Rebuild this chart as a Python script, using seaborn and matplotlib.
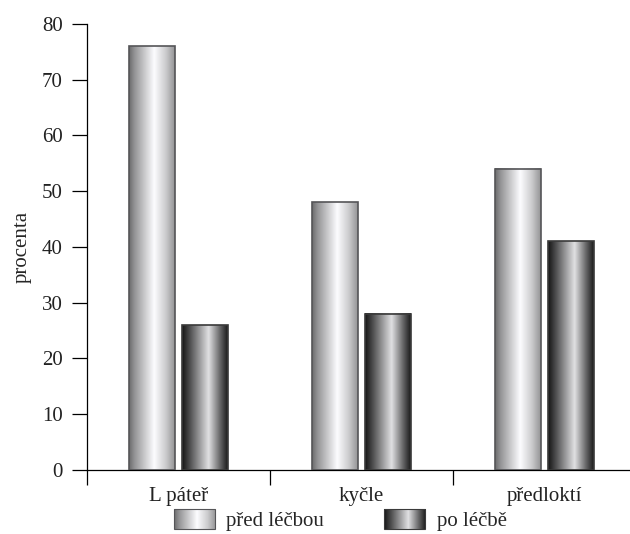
import numpy as np
import pandas as pd
import matplotlib
matplotlib.use("Agg")
import matplotlib.pyplot as plt
import seaborn as sns
from matplotlib.legend_handler import HandlerBase
from matplotlib.image import BboxImage
from matplotlib.transforms import Bbox, TransformedBbox
from matplotlib.patches import Rectangle

categories = ["L páteř", "kyčle", "předloktí"]
series_names = ["před léčbou", "po léčbě"]
before = [76, 48, 54]
after = [26, 28, 41]
y_ticks = [0, 10, 20, 30, 40, 50, 60, 70, 80]
y_label = "procenta"

df = pd.DataFrame({
    "kategorie": categories * 2,
    "skupina": [series_names[0]] * 3 + [series_names[1]] * 3,
    "hodnota": before + after,
})

sns.set_theme(style="white")
plt.rcParams["font.family"] = ["Liberation Serif", "DejaVu Serif"]

def gradient(stops, n=200):
    xs = np.linspace(0, 1, n)
    pos = [s[0] for s in stops]
    val = [s[1] for s in stops]
    g = np.interp(xs, pos, val)
    rgb = np.stack([g, g, g * 1.01], axis=-1).clip(0, 1)
    return rgb[np.newaxis, :, :]

grad_before = gradient([(0, 0.42), (0.12, 0.58), (0.55, 0.99), (0.8, 0.8), (1, 0.58)])
grad_after = gradient([(0, 0.08), (0.18, 0.32), (0.58, 0.88), (0.82, 0.42), (1, 0.1)])
grads = [grad_before, grad_after]
edges = ["#555558", "#3a3a3a"]

fig = plt.figure(figsize=(6.3, 5.34), dpi=100)
ax = fig.add_axes([0.138, 0.1199, 0.862, 0.8352])

sns.barplot(data=df, x="kategorie", y="hodnota", hue="skupina",
            hue_order=series_names, order=categories,
            width=0.58, gap=0.14, legend=False, ax=ax,
            palette=["#cccccc", "#444444"], saturation=1)

for i, cont in enumerate(ax.containers):
    for bar in cont:
        x, y = bar.get_x(), bar.get_y()
        w, h = bar.get_width(), bar.get_height()
        ax.imshow(grads[i], extent=[x, x + w, y, y + h], aspect="auto",
                  interpolation="bilinear", zorder=2)
        bar.set_facecolor("none")
        bar.set_edgecolor(edges[i])
        bar.set_linewidth(1.2)
        bar.set_zorder(3)

ax.set_xlim(-0.5, 2.467)
ax.set_ylim(0, 80)
ax.set_yticks(y_ticks)
ax.set_yticklabels([str(t) for t in y_ticks])
ax.set_xticks(range(len(categories)))
ax.set_xticklabels(categories)
ax.set_xticks([-0.5, 0.5, 1.5], minor=True)
ax.set_xlabel("")
ax.set_ylabel(y_label, fontsize=15, labelpad=7)

for s in ["top", "right"]:
    ax.spines[s].set_visible(False)
for s in ["left", "bottom"]:
    ax.spines[s].set_color("black")
    ax.spines[s].set_linewidth(0.9)

ax.tick_params(axis="y", which="major", direction="out", length=11, width=0.9,
               color="black", labelsize=15, pad=6.5, left=True)
ax.tick_params(axis="x", which="major", length=0, labelsize=15, pad=12.5, bottom=True)
ax.tick_params(axis="x", which="minor", direction="out", length=11, width=0.9,
               color="black", bottom=True)
for lab in ax.get_xticklabels() + ax.get_yticklabels():
    lab.set_color("#222222")


class GradHandler(HandlerBase):
    def __init__(self, grad, ec):
        super().__init__()
        self.grad = grad
        self.ec = ec

    def create_artists(self, legend, orig_handle, xdescent, ydescent,
                       width, height, fontsize, trans):
        bb = Bbox.from_bounds(-xdescent, -ydescent, width, height)
        tbb = TransformedBbox(bb, trans)
        img = BboxImage(tbb, interpolation="bilinear")
        img.set_data(self.grad)
        rect = Rectangle((-xdescent, -ydescent), width, height,
                         facecolor="none", edgecolor=self.ec, linewidth=0.8,
                         transform=trans)
        return [img, rect]


h1 = Rectangle((0, 0), 1, 1)
h2 = Rectangle((0, 0), 1, 1)
fig.legend([h1, h2], series_names, loc="center", bbox_to_anchor=(0.54, 0.026),
           ncol=2, frameon=False, fontsize=15, handlelength=1.97, handleheight=1.1,
           handletextpad=0.55, columnspacing=2.9, borderpad=0.2,
           handler_map={h1: GradHandler(grad_before, edges[0]),
                        h2: GradHandler(grad_after, edges[1])})

fig.savefig("out.png", dpi=100)
